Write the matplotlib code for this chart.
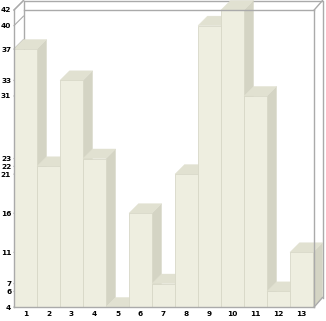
import matplotlib
matplotlib.use("Agg")
import matplotlib.pyplot as plt
from matplotlib.patches import Polygon

# data
categories = [str(i) for i in range(1, 14)]
values = [37, 22, 33, 23, 4, 16, 7, 21, 40, 42, 31, 6, 11]
y_min, y_max = 4, 42

# colours
front_col = "#eeeee0"
top_col = "#e1e1d1"
side_col = "#d4d4c4"
edge_col = "#d8d8c8"
frame_col = "#aaaaaa"

W, H = 326, 321
fig = plt.figure(figsize=(W / 100, H / 100), dpi=100)
# front plane of the 3d box, in pixels
left, right, bottom, top = 14, 313, 307, 10
ax = fig.add_axes([left / W, (H - bottom) / H, (right - left) / W, (bottom - top) / H])

n = len(values)
x0, x1 = 0.5, n + 0.5
ax.set_xlim(x0, x1)
ax.set_ylim(y_min, y_max)

# depth offset in data units (about 9.5 px right and up)
depth_px = 9.5
dx = depth_px * (x1 - x0) / (right - left)
dy = depth_px * (y_max - y_min) / (bottom - top)

# back wall frame
ax.plot([x0 + dx, x0 + dx, x1 + dx, x1 + dx],
        [y_min + dy, y_max + dy, y_max + dy, y_min + dy],
        color=frame_col, lw=1.0, clip_on=False, zorder=1)

# diagonal grid lines on the left wall (mostly hidden behind the bars)
for v in sorted(set(values)):
    ax.plot([x0, x0 + dx], [v, v + dy], color=frame_col, lw=0.8,
            clip_on=False, zorder=1)

# bars, left to right so each one covers the side of the previous
for i, v in enumerate(values):
    xc = i + 1
    xl, xr = xc - 0.5, xc + 0.5
    z = 2 + i * 0.01
    front = Polygon([(xl, y_min), (xr, y_min), (xr, v), (xl, v)],
                    closed=True, facecolor=front_col, edgecolor=edge_col,
                    lw=0.6, clip_on=False, zorder=z)
    topf = Polygon([(xl, v), (xr, v), (xr + dx, v + dy), (xl + dx, v + dy)],
                   closed=True, facecolor=top_col, edgecolor=top_col,
                   lw=0.3, clip_on=False, zorder=z)
    side = Polygon([(xr, y_min), (xr, v), (xr + dx, v + dy), (xr + dx, y_min + dy)],
                   closed=True, facecolor=side_col, edgecolor=side_col,
                   lw=0.3, clip_on=False, zorder=z)
    ax.add_patch(side)
    ax.add_patch(topf)
    ax.add_patch(front)

# front frame
fr = dict(color=frame_col, lw=1.0, clip_on=False, zorder=5)
ax.plot([x0, x0], [y_min, y_max], **fr)
ax.plot([x0, x1 + 0.05], [y_min, y_min], **fr)
ax.plot([x1 + 0.05, x1 + 0.05], [y_min, y_max], **fr)
ax.plot([x0 + dx, x1 + 0.05], [y_max, y_max], **fr)
ax.plot([x0, x0 + dx], [y_max, y_max + dy], **fr)
ax.plot([x1 + 0.05, x1 + dx], [y_max, y_max + dy], **fr)
ax.plot([x1 + 0.05, x1 + dx], [y_min, y_min + dy], **fr)

for s in ax.spines.values():
    s.set_visible(False)
ax.patch.set_visible(False)

ax.set_yticks(sorted(set(values)))
ax.set_yticklabels([str(v) for v in sorted(set(values))])
ax.set_xticks(range(1, n + 1))
ax.set_xticklabels(categories)
ax.tick_params(axis="both", length=0, labelsize=5.3, colors="black")
ax.tick_params(axis="y", pad=2)
ax.tick_params(axis="x", pad=3)
for lab in ax.get_xticklabels() + ax.get_yticklabels():
    lab.set_fontweight("bold")

fig.savefig("out.png", dpi=100)
